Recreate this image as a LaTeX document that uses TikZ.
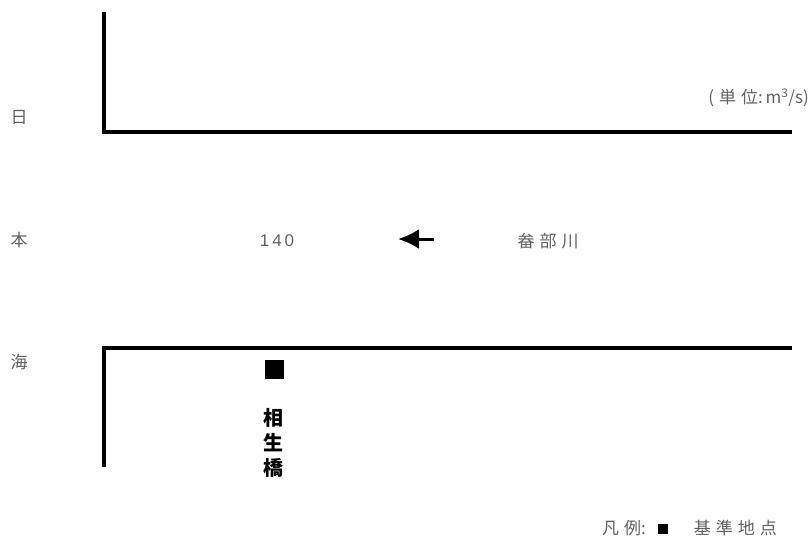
\documentclass[tikz,border=0pt]{standalone}
\usepackage{fontspec}
\setmainfont{Liberation Sans}
\newfontfamily\cjk{Noto Sans CJK JP}
\usetikzlibrary{arrows.meta}
\newcommand\gp{\hspace{5pt}}
\begin{document}
\begin{tikzpicture}[x=1pt,y=-1pt,
  lbl/.style={font=\cjk\fontsize{17}{19}\selectfont, text=black!62, inner sep=0pt},
  wall/.style={line width=3.8pt, line cap=butt},
  bridge/.style={font=\cjk\bfseries\fontsize{20}{25}\selectfont, text=black, inner sep=0pt, align=center}]
\useasboundingbox (0,0) rectangle (810,541);
% banks
\coordinate (tl0) at (104,12);
\coordinate (tl1) at (104,132);
\coordinate (tr) at (792,132);
\coordinate (bl0) at (104,348);
\coordinate (bl1) at (104,467);
\coordinate (br) at (792,348);
\draw[wall] (tl0) -- (tl1) -- (tr);
\draw[wall] (bl1) -- (bl0) -- (br);
% sea label
\node[lbl] (n1) at (19,118) {日};
\node[lbl] (n2) at (19,240) {本};
\node[lbl] (n3) at (19,362) {海};
% unit
\node[lbl, anchor=east] (unit) at (809,98) {({\gp}単\gp 位:\,m\textsuperscript{3}/s)};
% flow
\node[lbl, font=\fontsize{17}{19}\selectfont] (q) at (277,241) {1\,4\,0};
\coordinate (a1) at (434,239);
\coordinate (a0) at (398,239);
\draw[line width=3pt, -{Latex[length=21pt,width=20pt]}] (a1) -- (a0);
\node[lbl, font=\cjk\fontsize{17}{19}\selectfont] (riv) at (548,241) {畚\gp 部\gp 川};
% point
\node[fill=black, minimum size=19pt, inner sep=0pt] (sq) at (274,369) {};
\node[bridge] (br1) at (273,443) {相\\生\\橋};
% legend
\node[lbl, anchor=west] (leg) at (602,528) {凡\gp 例:\hspace{12pt}{\color{black}\rule{10pt}{10pt}}\hspace{26pt}基\gp 準\gp 地\gp 点};
\end{tikzpicture}
\end{document}
